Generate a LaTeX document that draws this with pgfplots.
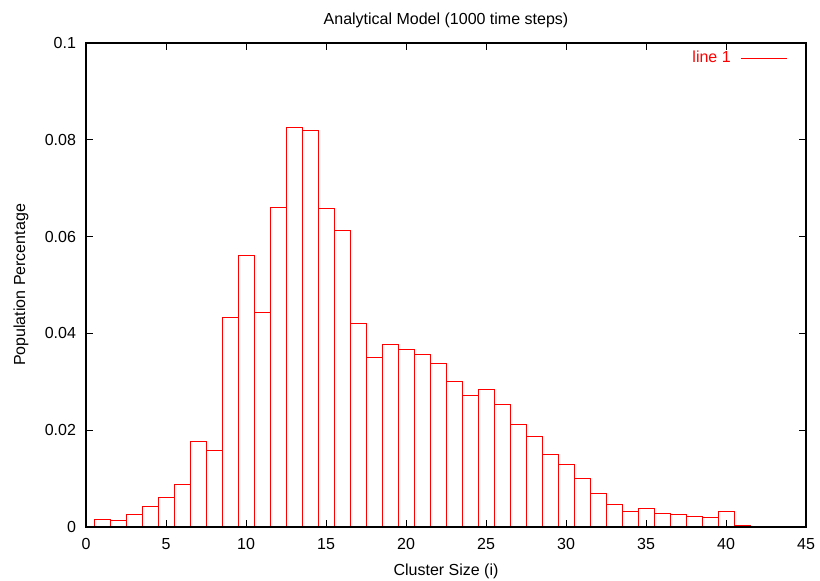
\documentclass[border=0pt]{standalone}
\usepackage{pgfplots}
\pgfplotsset{compat=1.18}
\usepackage{fontspec}
\setmainfont{Liberation Sans}
\begin{document}
\begin{tikzpicture}
\path[use as bounding box] (0pt,0pt) rectangle (615pt,435.75pt);
\begin{axis}[
  at={(64.5pt,40.5pt)}, anchor=south west,
  scale only axis, width=540pt, height=363pt,
  xmin=0, xmax=45, ymin=0, ymax=0.1,
  xtick={0,5,...,45}, ytick={0,0.02,0.04,0.06,0.08,0.1},
  yticklabels={0,0.02,0.04,0.06,0.08,0.1},
  /pgf/number format/assume math mode=true,
  axis on top=true,
  tick align=inside, major tick length=5pt,
  xtick pos=both, ytick pos=both,
  tick style={black, line width=0.6pt},
  axis line style={black, line width=1pt},
  font=\fontsize{12}{14}\selectfont,
  title={Analytical Model (1000 time steps)},
  title style={at={(0.5,1)}, anchor=south, yshift=1.5pt},
  xlabel={Cluster Size (i)},
  ylabel={Population Percentage},
  xlabel style={yshift=-4pt},
  ylabel style={yshift=5.5pt},
  xticklabel style={yshift=-5pt},
  yticklabel style={xshift=-4pt},
  legend plot pos=right,
  legend style={draw=none, fill=none, at={(0.975,0.975)}, anchor=north east, yshift=5pt,
    text=red, font=\fontsize{12}{14}\selectfont, inner sep=0pt},
  legend image code/.code={\path (0pt,0pt); \draw[red, line width=0.75pt] (5pt,0pt) -- (40pt,0pt);},
]
\addplot[ybar, bar width=1, draw=red, fill=none, line width=0.75pt, forget plot] coordinates {
(1,0.0016) (2,0.0013) (3,0.0026) (4,0.0043) (5,0.0061) (6,0.0088) (7,0.0176) (8,0.0159)
(9,0.0432) (10,0.0561) (11,0.0443) (12,0.0660) (13,0.0826) (14,0.0819) (15,0.0659)
(16,0.0613) (17,0.0420) (18,0.0350) (19,0.0378) (20,0.0367) (21,0.0357) (22,0.0338)
(23,0.0300) (24,0.0272) (25,0.0285) (26,0.0253) (27,0.0211) (28,0.0188) (29,0.0150)
(30,0.0130) (31,0.0101) (32,0.0070) (33,0.0047) (34,0.0032) (35,0.0039) (36,0.0028)
(37,0.0025) (38,0.0022) (39,0.0019) (40,0.0033) (41,0.0003)
};
\addlegendimage{red, line width=0.75pt}
\addlegendentry{line 1}
\end{axis}
\end{tikzpicture}
\end{document}
